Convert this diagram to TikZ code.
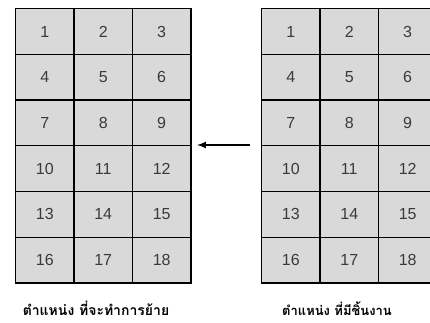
\documentclass[tikz,border=0pt]{standalone}
\usepackage{fontspec}
\setmainfont{Liberation Sans}
\newfontfamily\thaifont[Script=Thai]{Loma}
\begin{document}
\begin{tikzpicture}[x=1pt,y=-1pt,
  cellbox/.style={draw=black,line width=1.3pt,fill=cellgray,minimum width=58.4pt,minimum height=45.7pt,inner sep=0pt,font=\fontsize{16}{18}\selectfont,text=numgray,anchor=north west},
  caption/.style={font=\thaifont\bfseries\fontsize{13.5}{15}\selectfont,text=black}]
\definecolor{cellgray}{HTML}{D9D9D9}
\definecolor{numgray}{HTML}{3A3A3A}
\useasboundingbox (0,0) rectangle (430,323);
\begin{scope}
\clip (0,0) rectangle (430,323);
\foreach \r in {0,...,5}{
  \foreach \c in {0,...,2}{
    \pgfmathtruncatemacro{\n}{3*\r+\c+1}
    \node[cellbox] (L\n) at ({15+58.4*\c},{8+45.7*\r}) {\n};
    \node[cellbox] (R\n) at ({261+58.4*\c},{8+45.7*\r}) {\n};
  }
}
\end{scope}
\coordinate (astart) at (250,145);
\coordinate (aend) at (197,145);
\draw[line width=2pt,-latex] (astart) -- (aend);
\node[caption,font=\thaifont\bfseries\fontsize{14}{16}\selectfont] (lcap) at (96,308.5) {ตำแหน่ง ที่จะทำการย้าย};
\node[caption,font=\thaifont\bfseries\fontsize{13}{15}\selectfont] (rcap) at (337,308.5) {ตำแหน่ง ที่มีชิ้นงาน};
\end{tikzpicture}
\end{document}
